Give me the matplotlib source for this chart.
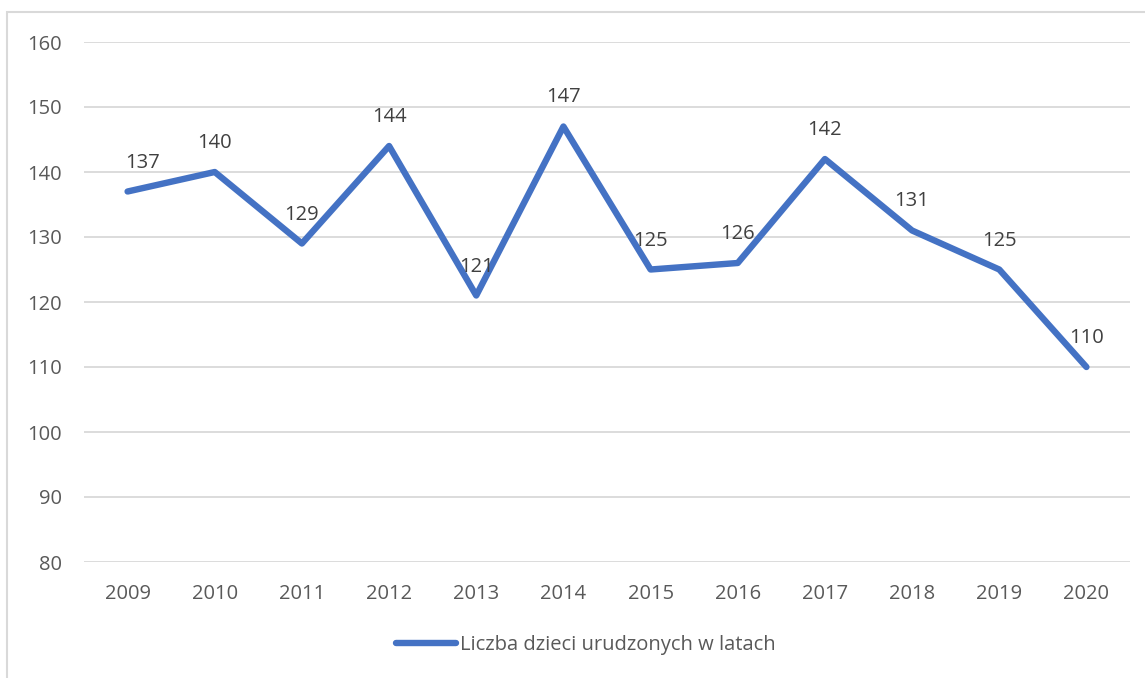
import matplotlib
matplotlib.use("Agg")
import matplotlib.pyplot as plt
from matplotlib.patches import Rectangle
from matplotlib.lines import Line2D

years = ["2009", "2010", "2011", "2012", "2013", "2014", "2015", "2016", "2017", "2018", "2019", "2020"]
births = [137, 140, 129, 144, 121, 147, 125, 126, 142, 131, 125, 110]
y_ticks = [80, 90, 100, 110, 120, 130, 140, 150, 160]
series_name = "Liczba dzieci urudzonych w latach"

W, H, DPI = 1145, 678, 100
plt.rcParams['font.family'] = ['Open Sans', 'DejaVu Sans']
fig = plt.figure(figsize=(W / DPI, H / DPI), dpi=DPI)
fig.patch.set_facecolor("white")

# chart border
fig.patches.append(Rectangle((7 / W, -0.05), 1.2, 1 - 12 / H + 0.05, transform=fig.transFigure,
                             fill=False, edgecolor="#D9D9D9", linewidth=1.5))

ax = fig.add_axes([84 / W, 1 - 562 / H, (1130 - 84) / W, (562 - 42) / H])
x = list(range(len(years)))
color = "#4472C4"
ax.plot(x, births, color=color, linewidth=4.6, solid_capstyle="round", solid_joinstyle="round", zorder=3)

txt = "#595959"
for i, v in enumerate(births):
    dx = 15 if i == 0 else 0
    ax.annotate(str(v), (i, v), xytext=(dx, 19), textcoords="offset pixels",
                ha="center", va="bottom", fontsize=14.5, color="#404040", zorder=4)

ax.set_xlim(-0.5, len(years) - 0.5)
ax.set_ylim(80, 160)
ax.set_yticks(y_ticks)
ax.set_xticks(x)
ax.set_xticklabels(years)
ax.tick_params(axis="both", length=0, labelsize=14.5, labelcolor=txt)
ax.tick_params(axis="y", pad=16)
ax.tick_params(axis="x", pad=16)
ax.grid(axis="y", color="#D9D9D9", linewidth=1.3)
ax.set_axisbelow(True)
for s in ax.spines.values():
    s.set_visible(False)

handle = Line2D([], [], color=color, linewidth=4.6, solid_capstyle="round")
fig.legend([handle], [series_name], loc="center", bbox_to_anchor=(586 / W, 1 - 645 / H),
           frameon=False, fontsize=14.5, labelcolor=txt, handlelength=3.0, handletextpad=0.2)

fig.savefig("out.png", dpi=DPI, facecolor="white")
